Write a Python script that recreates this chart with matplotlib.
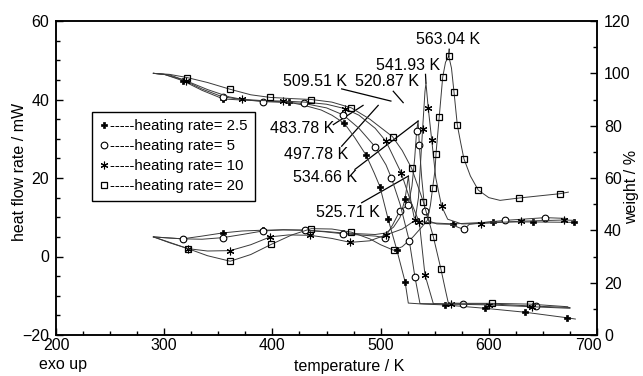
import numpy as np
import matplotlib
matplotlib.use("Agg")
import matplotlib.pyplot as plt
from matplotlib.lines import Line2D
import matplotlib.transforms as mtransforms

plt.rcParams['font.family'] = ['Liberation Sans', 'DejaVu Sans']
FS = 11.5

# ---------------- data ----------------
rates = ["2.5", "5", "10", "20"]

# DSC heat flow (left axis, mW)
dsc_T_25 = [290, 300, 317, 335, 354, 372, 391, 410, 430, 448, 465, 480, 495, 505, 512, 518, 522.6, 525.71, 528, 531, 535, 545, 567, 603.6, 641, 679]
dsc_v_25 = [5, 4.8, 4.5, 5.2, 6.0, 6.5, 6.7, 6.8, 6.7, 6.4, 6.0, 5.8, 5.6, 6.0, 7.5, 10, 14.7, 20.5, 14, 10, 9, 8.6, 8.3, 8.8, 8.8, 8.7]
dsc_mk_25 = [317, 354, 391, 430, 465, 522.6, 567, 603.6, 641, 679]

dsc_T_5 = [290, 300, 317, 335, 354, 372, 391, 410, 430, 448, 465, 480, 495, 504, 511, 518, 525.6, 529, 531.5, 533.3, 534.66, 535.8, 538, 541, 545, 552, 565, 572, 577, 582, 600, 615, 652, 672]
dsc_v_5 = [5, 4.8, 4.5, 4.4, 4.8, 5.6, 6.5, 6.8, 6.7, 6.3, 5.8, 5.5, 5.2, 4.8, 8, 11.7, 13.2, 18, 25, 31.9, 34.6, 28.3, 20, 11.5, 9, 8.3, 8.2, 7.4, 6.9, 8.2, 8.8, 9.2, 9.9, 9.7]
dsc_mk_5 = [317, 354, 391, 430, 465, 504, 518, 525.6, 533.3, 535.8, 541, 577, 615, 652]

dsc_T_10 = [290, 305, 322, 340, 361, 380, 398, 415, 435, 455, 472, 490, 505, 520, 531.8, 535, 538.8, 541, 541.93, 544, 547.2, 551, 556.4, 562, 575, 593, 630, 669.5, 679]
dsc_v_10 = [5, 3.5, 2.0, 1.4, 1.5, 3.0, 5.0, 5.5, 5.4, 4.6, 3.6, 4.0, 5.5, 7, 9.2, 15, 32.4, 42, 44.2, 37.9, 29.8, 20, 12.8, 9.5, 8.3, 8.4, 9.0, 9.3, 9.2]
dsc_mk_10 = [322, 361, 398, 435, 472, 505, 531.8, 538.8, 544, 547.2, 556.4, 593, 630, 669.5]

dsc_T_20 = [290, 305, 322, 340, 361, 380, 399, 418, 436, 455, 473, 490, 500, 512, 520, 530, 538, 543.2, 546, 548.1, 550.3, 551.2, 554.2, 557.4, 560, 563.04, 565.5, 567.8, 570.9, 574, 577, 583, 590.3, 600, 610.4, 627.9, 645, 665.8, 673.5]
dsc_v_20 = [5, 3.6, 2.0, 0.2, -1.2, 0.5, 3.1, 5.5, 7.1, 7.0, 6.2, 4.5, 3.0, 1.6, 2.5, 5, 7.5, 9.2, 13, 17.5, 22, 26.2, 35.6, 45.7, 49.5, 51, 48, 42, 33.5, 29, 24.9, 20.5, 16.9, 15.0, 14.3, 14.9, 15.4, 16.0, 16.4]
dsc_mk_20 = [322, 361, 399, 436, 473, 512, 543.2, 548.1, 551.2, 554.2, 557.4, 563.04, 567.8, 570.9, 577, 590.3, 627.9, 665.8]

# TG weight (right axis, %)
tg_T_25 = [290, 300, 317, 335, 354.6, 371.6, 390, 415, 429, 445, 455, 466.5, 476, 486.5, 494, 499.4, 507, 515, 522.6, 525.6, 540, 559.5, 596.5, 633.5, 672, 680]
tg_w_25 = [100, 99.6, 97.2, 93.5, 90.2, 89.8, 89.5, 89.0, 87.8, 86.0, 84.0, 80.9, 75.5, 68.8, 62.0, 56.7, 44.2, 32.5, 20.4, 12.2, 11.8, 11.5, 10.2, 8.7, 6.6, 6.1]
tg_mk_25 = [317, 354.6, 415, 466.5, 486.5, 499.4, 507, 515, 522.6, 559.5, 596.5, 633.5, 672]

tg_T_5 = [290, 300, 317, 335, 354, 372, 391, 410, 429, 450, 465.5, 480, 494.8, 505, 510, 518, 526.5, 531.8, 536.4, 560, 576.5, 605, 644, 675]
tg_w_5 = [100, 99.6, 97.6, 94.0, 91.0, 90.0, 89.2, 88.9, 88.5, 86.8, 84.1, 79, 72, 65, 60, 50, 36, 22, 12, 11.9, 11.9, 11.8, 11.0, 10.5]
tg_mk_5 = [354, 391, 429, 465.5, 494.8, 510, 526.5, 531.8, 576.5, 644]

tg_T_10 = [290, 305, 320, 340, 360, 371.6, 390, 410, 430, 450, 467, 480, 495, 505, 512, 519, 527, 535.8, 541, 548.7, 565, 600, 640, 675]
tg_w_10 = [100, 99.4, 97.2, 93.8, 91.0, 90.1, 89.6, 89.4, 89.0, 88.2, 86.5, 84, 79, 74, 68, 62, 52, 43, 23, 12, 11.8, 11.5, 10.8, 10.2]
tg_mk_10 = [320, 371.6, 410, 467, 505, 519, 535.8, 541, 565, 600, 640]

tg_T_20 = [290, 305, 321, 340, 361, 380, 398, 420, 436, 455, 473, 490, 511, 520, 528.7, 539.5, 548.7, 555.8, 560, 562.6, 580, 602.7, 638, 673]
tg_w_20 = [100, 99.6, 98.4, 96.5, 93.9, 91.8, 90.8, 90.3, 90.0, 89.0, 86.8, 82.5, 75.8, 70.5, 63.7, 50.9, 37.6, 25.1, 17, 12.2, 12.1, 12.1, 11.8, 10.8]
tg_mk_20 = [321, 361, 398, 436, 473, 511, 528.7, 539.5, 548.7, 555.8, 602.7, 638]

# annotations: label, target temperature, target heat-flow value (left axis)
ann_labels = ["563.04 K", "541.93 K", "509.51 K", "520.87 K", "483.78 K", "497.78 K", "534.66 K", "525.71 K"]
ann_T = [563.04, 541.93, 509.51, 520.87, 483.78, 497.78, 534.66, 525.71]
ann_v = [51.0, 44.2, 39.6, 39.2, 38.5, 38.5, 34.5, 20.5]
# layout: text centre and line start (data coords)
ann_text_xy = [(562.3, 55.3), (525.8, 48.7), (439.8, 44.5), (505.6, 44.5), (427.4, 32.5), (440.3, 26.0), (448.6, 20.0), (469.4, 11.3)]
ann_line_from = [(563.4, 52.8), (541.5, 46.4), (464.0, 42.7), (511.7, 42.1), (456.3, 33.6), (464.0, 28.1), (476.3, 22.2), (482.5, 13.7)]

# ---------------- styling ----------------
mk_style = {
    "2.5": dict(marker='P', ms=4.0, mfc='black', mec='black', mew=0.5),
    "5": dict(marker='o', ms=4.8, mfc='white', mec='black', mew=0.8),
    "10": dict(marker=(6, 2, 0), ms=5.5, mfc='black', mec='black', mew=0.8),
    "20": dict(marker='s', ms=4.8, mfc='none', mec='black', mew=0.9),
}
line_kw = dict(color='#3a3a3a', lw=0.7)

fig = plt.figure(figsize=(6.43, 3.76), dpi=100)
W, H = 643, 376
ax = fig.add_axes([56 / W, 1 - 335 / H, (597 - 56) / W, (335 - 21) / H])
ax2 = ax.twinx()

def draw(a, T, v, mks, rate):
    idx = [T.index(t) for t in mks]
    a.plot(T, v, markevery=idx, **line_kw, **mk_style[rate])

dsc = [(dsc_T_25, dsc_v_25, dsc_mk_25), (dsc_T_5, dsc_v_5, dsc_mk_5),
       (dsc_T_10, dsc_v_10, dsc_mk_10), (dsc_T_20, dsc_v_20, dsc_mk_20)]
tg = [(tg_T_25, tg_w_25, tg_mk_25), (tg_T_5, tg_w_5, tg_mk_5),
      (tg_T_10, tg_w_10, tg_mk_10), (tg_T_20, tg_w_20, tg_mk_20)]
for r, (T, v, m) in zip(rates, dsc):
    draw(ax, T, v, m, r)
for r, (T, w, m) in zip(rates, tg):
    draw(ax2, T, w, m, r)

ax.set_xlim(200, 700)
ax.set_ylim(-20, 60)
ax2.set_ylim(0, 120)

ax.set_xticks(np.arange(200, 701, 100))
ax.set_xticks(np.arange(200, 701, 25), minor=True)
ax.set_yticks(np.arange(-20, 61, 20))
ax.set_yticks(np.arange(-20, 61, 5), minor=True)
ax2.set_yticks(np.arange(0, 121, 20))
ax2.set_yticks(np.arange(0, 121, 10), minor=True)

ax.tick_params(axis='both', which='both', direction='in', top=False, right=False, labelsize=FS, width=1.0)
ax.tick_params(axis='both', which='major', length=5)
ax.tick_params(axis='both', which='minor', length=3)
ax.tick_params(axis='x', pad=2)
ax.tick_params(axis='y', pad=5)
ax2.tick_params(axis='y', which='both', direction='in', labelsize=FS, width=1.0, pad=5)
ax2.tick_params(axis='y', which='major', length=5)
ax2.tick_params(axis='y', which='minor', length=3)
for a in (ax, ax2):
    for s in a.spines.values():
        s.set_linewidth(1.1)

# shift the last x tick label ("700") left, as in the reference, so it clears the right "0"
fig.canvas.draw()
lab700 = ax.get_xticklabels()[-1]
lab700.set_transform(lab700.get_transform() + mtransforms.ScaledTranslation(-9 / 100, 0, fig.dpi_scale_trans))

fig.text(20 / W, 1 - 172 / H, "heat flow rate / mW", rotation=90, ha='center', va='center', fontsize=FS)
fig.text(632 / W, 1 - 187 / H, "weight / %", rotation=90, ha='center', va='center', fontsize=FS)
fig.text(349 / W, 1 - 366 / H, "temperature / K", ha='center', va='center', fontsize=FS)
fig.text(63 / W, 1 - 364 / H, "exo up", ha='center', va='center', fontsize=FS)

for lab, T, v, txy, lf in zip(ann_labels, ann_T, ann_v, ann_text_xy, ann_line_from):
    ax.text(txy[0], txy[1], lab, ha='center', va='center', fontsize=FS, zorder=5)
    ax.plot([lf[0], T], [lf[1], v], color='black', lw=0.9, zorder=5)

handles = [Line2D([], [], linestyle='none', **mk_style[r]) for r in rates]
labels = ["-----heating rate= " + r for r in rates]
leg = ax.legend(handles, labels, loc='upper left', bbox_to_anchor=(91.7 / W, 1 - 111.7 / H),
                bbox_transform=fig.transFigure, fontsize=10.8, frameon=True, fancybox=False,
                edgecolor='black', framealpha=1, handlelength=0.6, handletextpad=0.15,
                borderpad=0.5, labelspacing=0.4, borderaxespad=0)
leg.get_frame().set_linewidth(1.0)

fig.savefig("out.png", dpi=100)
